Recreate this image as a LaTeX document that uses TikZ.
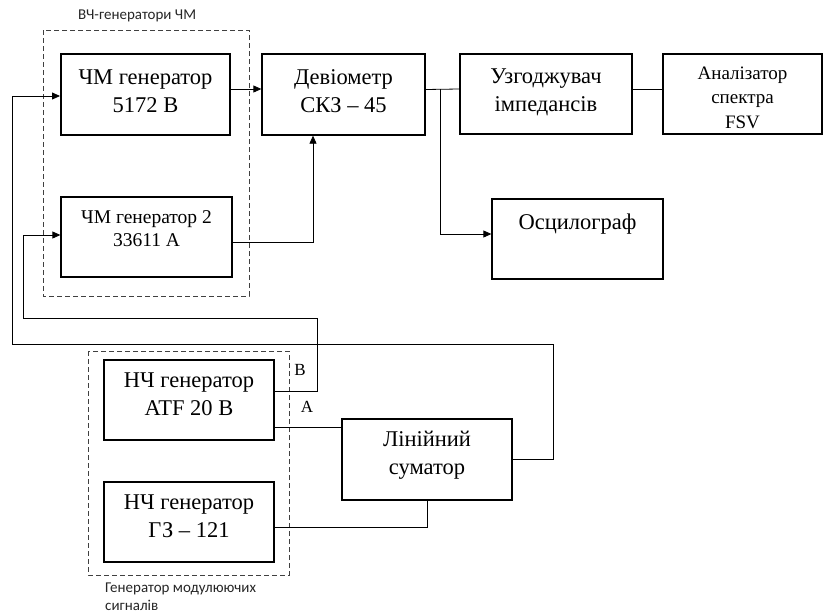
\documentclass[tikz,border=0pt]{standalone}
\usepackage{fontspec}
\setmainfont{Liberation Serif}
\newfontfamily\lblfont{Carlito}
\usetikzlibrary{arrows.meta,calc,positioning}

\begin{document}
\begin{tikzpicture}[x=1pt,y=-1pt,>={Triangle[length=8pt,width=7pt]},line join=miter,
  blk/.style={draw,line width=1.3pt,align=center,inner sep=0pt,
    font=\fontsize{22.5}{28}\selectfont},
  blkb/.style={blk,line width=2pt},
  grp/.style={black!75,line width=0.7pt,dash pattern=on 5pt off 3pt},
  wire/.style={line width=0.8pt},
  grplbl/.style={font=\lblfont\fontsize{15}{18}\selectfont,text=black!85,
    align=left,anchor=north west,inner sep=0pt}]
 \useasboundingbox (0,0) rectangle (824,613);

 % groups
 \draw[grp] (43,30) rectangle (249,296);
 \draw[grp] (88,351) rectangle (289,575);
 \node[grplbl] (hf) at (78,10) {ВЧ-генератори ЧМ};
 \node[grplbl] (lf) at (105,583) {Генератор модулюючих\\сигналів};

 % blocks
 \node[blkb,minimum width=169pt,minimum height=81pt,text depth=7pt] (g1) at (145.5,94.5)
  {ЧМ генератор\\5172 B};
 \node[blk,minimum width=171pt,minimum height=80pt,
  font=\fontsize{19.5}{23}\selectfont,text depth=17pt] (g2) at (146.5,237)
  {ЧМ генератор 2\\33611 A};
 \node[blk,minimum width=163pt,minimum height=81pt,text depth=7pt] (dev) at (343.5,94.5)
  {Девіометр\\СКЗ -- 45};
 \node[blk,minimum width=172pt,minimum height=80pt,text depth=8pt] (uzg) at (546,94)
  {Узгоджувач\\імпедансів};
 \node[blk,minimum width=159pt,minimum height=80pt,
  font=\fontsize{19}{24.5}\selectfont,text height=68.6pt] (an) at (742.5,94)
  {Аналізатор\\спектра\\FSV};
 \node[blk,minimum width=171pt,minimum height=80pt,text depth=34pt] (osc) at (577.5,239)
  {Осцилограф};
 \node[blkb,minimum width=170pt,minimum height=80pt,text depth=12pt] (atf) at (189,400)
  {НЧ генератор\\ATF 20 B};
 \node[blkb,minimum width=170pt,minimum height=80pt,text depth=12pt] (gz) at (189,522)
  {НЧ генератор\\ГЗ -- 121};
 \node[blkb,minimum width=170pt,minimum height=81pt,text depth=14pt] (sum) at (427,459.5)
  {Лінійний\\суматор};

 \node[font=\fontsize{17}{19}\selectfont] (pb) at (300,370) {B};
 \node[font=\fontsize{17}{19}\selectfont] (pa) at (307,407) {A};

 \coordinate (br) at (440,89);
 \coordinate (c1) at (553,344);
 \coordinate (c2) at (12,344);
 \coordinate (c3) at (317,318);
 \coordinate (c4) at (23,318);

 % connections
 \draw[wire,->] ([yshift=5.5pt]g1.east) -- ([yshift=5.5pt]dev.west);
 \draw[wire,->] ([yshift=-5pt]g2.east) -| ([xshift=-30.5pt]dev.south);
 \draw[wire] ([yshift=5pt]dev.east) -- ([yshift=5pt]uzg.west);
 \draw[wire] ([yshift=5pt]uzg.east) -- ([yshift=5pt]an.west);
 \draw[wire,->] (br) |- ([yshift=5pt]osc.west);
 \draw[wire] ([yshift=-27pt]atf.east) -- ([yshift=-27pt]atf.east -| sum.west);
 \draw[wire] ([yshift=-5pt]gz.east) -| (sum.south);
 \draw[wire,->] (sum.east) -| (c1) -- (c2) |- ([yshift=-1.5pt]g1.west);
 \draw[wire,->] ([yshift=9pt]atf.east) -| (c3) -- (c4) |- ([yshift=2pt]g2.west);
\end{tikzpicture}
\end{document}
